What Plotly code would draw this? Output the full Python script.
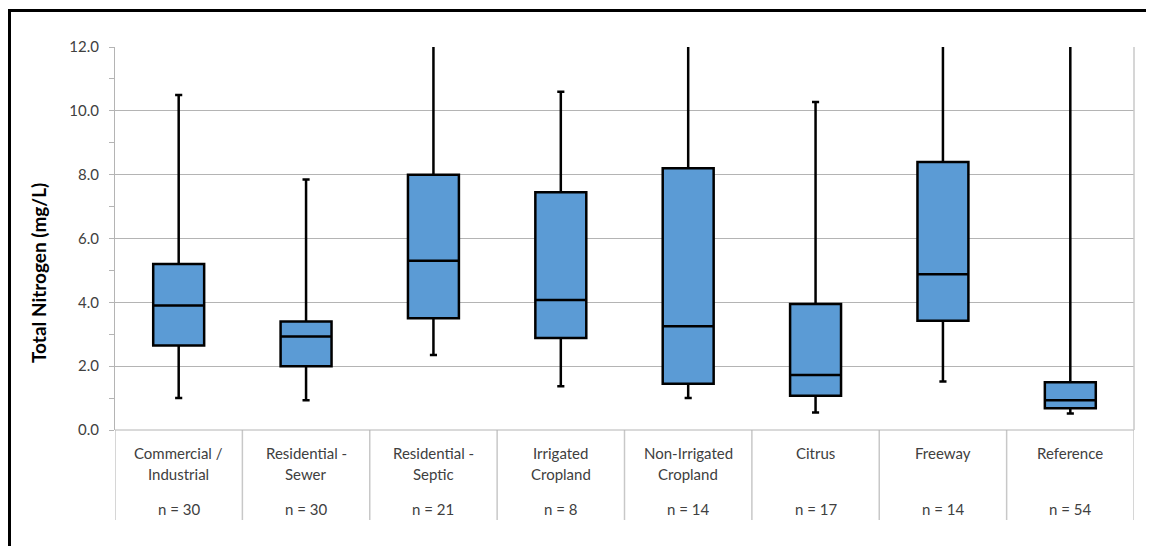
import plotly.graph_objects as go

cat_line1 = ["Commercial /", "Residential -", "Residential -", "Irrigated", "Non-Irrigated",
             "Citrus", "Freeway", "Reference"]
cat_line2 = ["Industrial", "Sewer", "Septic", "Cropland", "Cropland", "", "", ""]
n_labels = ["n = 30", "n = 30", "n = 21", "n = 8", "n = 14", "n = 17", "n = 14", "n = 54"]
lower_whisker = [1.0, 0.93, 2.35, 1.37, 1.0, 0.55, 1.52, 0.52]
q1_values = [2.65, 2.0, 3.5, 2.88, 1.45, 1.07, 3.42, 0.68]
median_values = [3.9, 2.93, 5.3, 4.07, 3.25, 1.72, 4.88, 0.93]
q3_values = [5.2, 3.4, 8.0, 7.45, 8.2, 3.95, 8.4, 1.5]
upper_whisker = [10.5, 7.85, 14.0, 10.6, 14.0, 10.28, 14.0, 14.0]
y_ticks = [0, 2, 4, 6, 8, 10, 12]

xpos = list(range(len(cat_line1)))

W, H = 1154, 546
OFF = 8  # page body margin
# target plot area in screen pixels: x 115..1134, y 47..430
L, T = 115 - OFF, 47 - OFF
R, B = W - (1134 - OFF), H - (430 - OFF)
pw, ph = W - L - R, H - T - B

def py(pix):  # screen pixel y -> paper y
    return (430 - pix) / ph

def px(pix):
    return (pix - 115) / pw

fig = go.Figure()
fig.add_trace(go.Box(
    x=xpos, q1=q1_values, median=median_values, q3=q3_values,
    lowerfence=lower_whisker, upperfence=upper_whisker,
    fillcolor="#5B9BD5", line=dict(color="black", width=2.5),
    width=0.4, whiskerwidth=0.14, showlegend=False, boxpoints=False,
))

txtc = "#404040"
grid = "#B4B4B4"
font_fam = "Lato, Liberation Sans, sans-serif"

fig.update_layout(
    width=W, height=H, margin=dict(l=L, r=R, t=T, b=B),
    paper_bgcolor="white", plot_bgcolor="white",
    font=dict(family=font_fam, color=txtc, size=14),
    xaxis=dict(range=[-0.5, len(xpos) - 0.5], showticklabels=False, showgrid=False,
               zeroline=False, showline=False, ticks=""),
    yaxis=dict(range=[0, 12], tickvals=y_ticks, tickformat=".1f", showgrid=True, gridcolor=grid,
               gridwidth=1, zeroline=False, showline=True, linecolor=grid, linewidth=1,
               ticks="outside", ticklen=5, tickcolor=grid, ticklabelstandoff=7,
               minor=dict(dtick=1, ticks="outside", ticklen=5, tickcolor=grid, showgrid=False),
               tickfont=dict(size=15, color=txtc)),
)

shapes = []
shapes.append(dict(type="line", xref="paper", yref="paper", x0=0, x1=1, y0=0, y1=0,
                   line=dict(color=grid, width=1)))
for i in range(len(xpos) + 1):
    shapes.append(dict(type="line", xref="x", yref="paper", x0=i - 0.5, x1=i - 0.5,
                       y0=0, y1=py(520), line=dict(color="#C8C8C8", width=1.5), layer="below"))
shapes.append(dict(type="line", xref="paper", yref="paper", x0=1, x1=1, y0=0, y1=1,
                   line=dict(color="#C8C8C8", width=1.5)))
shapes.append(dict(type="line", xref="paper", yref="paper", x0=px(9.5), x1=px(9.5),
                   y0=py(9), y1=py(560), line=dict(color="black", width=3)))
shapes.append(dict(type="line", xref="paper", yref="paper", x0=px(8), x1=px(1170),
                   y0=py(10.5), y1=py(10.5), line=dict(color="black", width=3)))
fig.update_layout(shapes=shapes)

ann = []
lab_font = dict(size=15, color=txtc)
for i in xpos:
    ann.append(dict(x=i, y=py(453), xref="x", yref="paper", text=cat_line1[i], showarrow=False,
                    font=lab_font, xanchor="center", yanchor="middle"))
    if cat_line2[i]:
        ann.append(dict(x=i, y=py(474), xref="x", yref="paper", text=cat_line2[i], showarrow=False,
                        font=lab_font, xanchor="center", yanchor="middle"))
    ann.append(dict(x=i, y=py(509), xref="x", yref="paper", text=n_labels[i], showarrow=False,
                    font=lab_font, xanchor="center", yanchor="middle"))
ann.append(dict(x=px(38), y=py(273), xref="paper", yref="paper", text="<b>Total Nitrogen (mg/L)</b>",
                textangle=-90, showarrow=False, font=dict(size=19, color="black"),
                xanchor="center", yanchor="middle"))
fig.update_layout(annotations=ann)

fig.write_html("out.html")
